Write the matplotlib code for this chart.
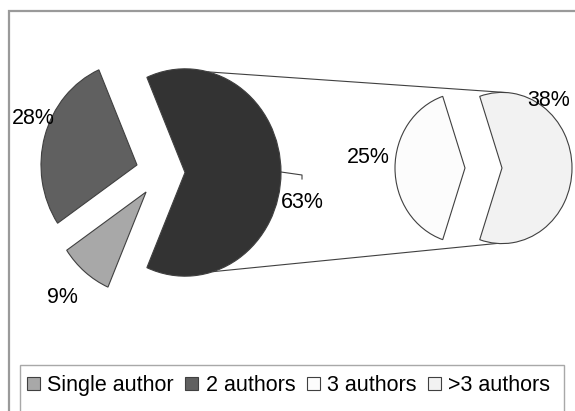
import matplotlib
matplotlib.use("Agg")
import matplotlib.pyplot as plt
from matplotlib.patches import Rectangle
import numpy as np

plt.rcParams["font.family"] = ["Liberation Sans", "DejaVu Sans"]

# main pie: the two small groups plus the combined "3 or more" share
main_labels = ["Other", "2 authors", "Single author"]
main_values = [63, 28, 9]
main_colors = ["#333333", "#606060", "#a8a8a8"]

# breakdown of the combined share
sub_labels = [">3 authors", "3 authors"]
sub_values = [38, 25]
sub_colors = ["#f2f2f2", "#fcfcfc"]

W, H = 575, 411
K = 1.08  # vertical stretch of the page


def py(y):
    # page y (from top) -> data y
    return (H - y) / K


fig = plt.figure(figsize=(5.75, 4.11), dpi=100)
ax = fig.add_axes([0, 0, 1, 1])

edge = dict(edgecolor="#404040", linewidth=0.8)

start_main = -main_values[0] / sum(main_values) * 180
wedges_main, _ = ax.pie(main_values, colors=main_colors, radius=96,
                        center=(161, py(172.5)), explode=[24, 25, 23.4],
                        startangle=start_main, counterclock=True,
                        wedgeprops=edge, frame=True)

start_sub = -sub_values[0] / sum(sub_values) * 180
wedges_sub, _ = ax.pie(sub_values, colors=sub_colors, radius=70,
                       center=(483.5, py(168)), explode=[18.5, 18.5],
                       startangle=start_sub, counterclock=True,
                       wedgeprops=edge, frame=True)

ax.set_aspect("auto")
ax.set_xlim(0, W)
ax.set_ylim(0, H / K)
ax.axis("off")

# connector lines between the "other" wedge and the breakdown pie
w_other = wedges_main[0]
w_big = wedges_sub[0]
for a_left, a_right in [(76, 86), (-73, -94)]:
    x0 = w_other.center[0] + w_other.r * np.cos(np.radians(a_left))
    y0 = w_other.center[1] + w_other.r * np.sin(np.radians(a_left))
    x1 = w_big.center[0] + w_big.r * np.cos(np.radians(a_right))
    y1 = w_big.center[1] + w_big.r * np.sin(np.radians(a_right))
    ax.plot([x0, x1], [y0, y1], color="#404040", lw=0.8, zorder=0)

# leader line for the 63% label
ax.plot([281, 302, 302], [py(172), py(175), py(179)], color="#404040", lw=0.8)

lab = dict(fontsize=15.5, ha="center", va="baseline", color="black")
ax.text(33.5, py(124), f"{main_values[1]}%", **lab)
ax.text(62, py(303), f"{main_values[2]}%", **lab)
ax.text(302, py(208), f"{main_values[0]}%", **lab)
ax.text(368, py(163), f"{sub_values[1]}%", **lab)
ax.text(548.5, py(106), f"{sub_values[0]}%", **lab)

# chart border and legend box
ax.add_patch(Rectangle((9, py(460)), 620, (460 - 11) / K, fill=False,
                       edgecolor="#9a9a9a", linewidth=1.6))
ax.add_patch(Rectangle((20, py(440)), 544, (440 - 365) / K, fill=False,
                       edgecolor="#a8a8a8", linewidth=1.0))

handles = [wedges_main[2], wedges_main[1], wedges_sub[1], wedges_sub[0]]
names = [main_labels[2], main_labels[1], sub_labels[1], sub_labels[0]]
ax.legend(handles, names, loc="center left", bbox_to_anchor=(27, py(385.5)),
          bbox_transform=ax.transData, ncol=4, frameon=False, borderpad=0,
          borderaxespad=0, handlelength=0.6, handleheight=0.6,
          handletextpad=0.33, columnspacing=0.55, fontsize=15.5)

fig.savefig("out.png", dpi=100)
